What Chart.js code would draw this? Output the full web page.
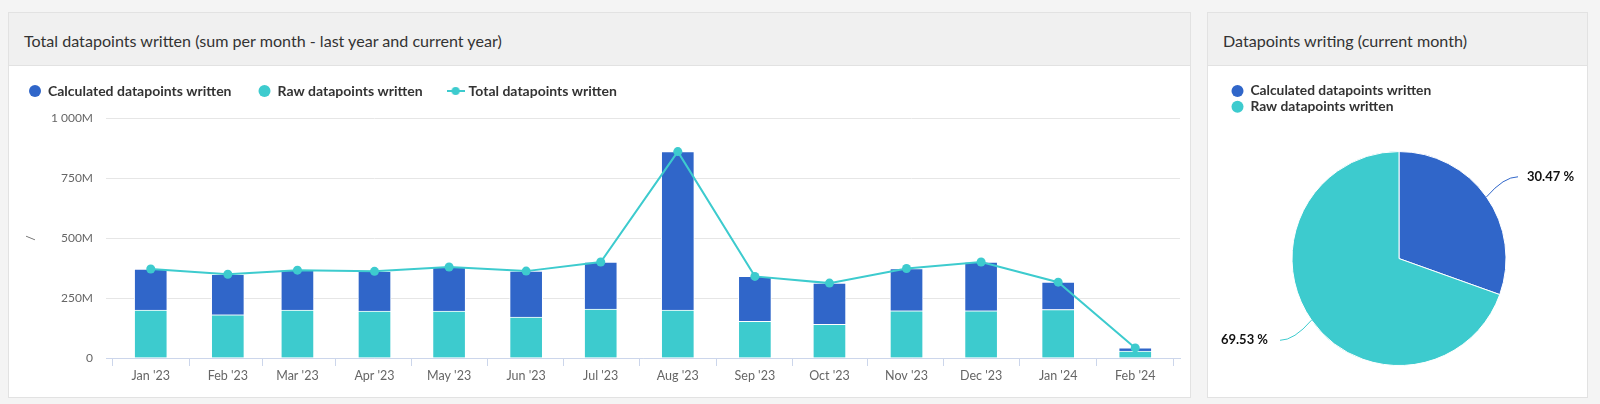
<!DOCTYPE html>
<html>
<head>
<meta charset="utf-8">
<script src="https://cdn.jsdelivr.net/npm/chart.js@4"></script>
<style>
  body { margin: 0; width: 1600px; height: 404px; background: #f4f4f4; font-family: Lato, sans-serif; overflow: hidden; position: relative; }
  .panel { position: absolute; top: 12px; height: 386px; background: #fff; border: 1px solid #e2e2e2; box-sizing: border-box; }
  .panel .head { height: 53px; background: #f0f0f0; border-bottom: 1px solid #e2e2e2; box-sizing: border-box; padding: 2px 0 0 15px; display: flex; align-items: center; font-size: 16.1px; color: #333; }
  canvas { position: absolute; }
</style>
</head>
<body>
<div class="panel" style="left:8px; width:1183px;"><div class="head">Total datapoints written (sum per month - last year and current year)</div></div>
<div class="panel" style="left:1207px; width:381px;"><div class="head">Datapoints writing (current month)</div></div>
<canvas id="bar-chart" style="left:9px; top:66px;" width="1181" height="331"></canvas>
<canvas id="pie-chart" style="left:1208px; top:66px;" width="379" height="331"></canvas>
<script>
// data (millions of datapoints per month)
const monthStarts = ["2023-01-01", "2023-02-01", "2023-03-01", "2023-04-01", "2023-05-01", "2023-06-01", "2023-07-01",
  "2023-08-01", "2023-09-01", "2023-10-01", "2023-11-01", "2023-12-01", "2024-01-01", "2024-02-01"];
const monthLabels = ["Jan '23", "Feb '23", "Mar '23", "Apr '23", "May '23", "Jun '23", "Jul '23",
  "Aug '23", "Sep '23", "Oct '23", "Nov '23", "Dec '23", "Jan '24", "Feb '24"];
const rawWritten = [200, 180, 200, 196, 196, 170, 204, 200, 153, 140, 197, 197, 202, 29];
const calculatedWritten = [171, 169, 166, 165, 183, 192, 196, 660, 187, 172, 176, 203, 114, 13];
const totalWritten = [371, 349, 366, 361, 379, 362, 400, 860, 340, 312, 373, 400, 316, 42];

const pieLabels = ["Calculated datapoints written", "Raw datapoints written"];
const pieShare = [30.47, 69.53];

const blue = "#3066c9";
const teal = "#3dcbce";

// x positions = days since first month
const dayZero = Date.parse(monthStarts[0]);
const days = monthStarts.map(d => Math.round((Date.parse(d) - dayZero) / 86400000));

function pts(values){
    return values.map((v, i) => ({x: days[i], y: v}));
}

//legend icon for the line series
const lineIcon = document.createElement("canvas");
lineIcon.width = 18;
lineIcon.height = 10;
let ic = lineIcon.getContext("2d");
ic.strokeStyle = teal;
ic.lineWidth = 2;
ic.beginPath(); ic.moveTo(0, 5); ic.lineTo(18, 5); ic.stroke();
ic.fillStyle = teal;
ic.beginPath(); ic.arc(9, 5, 4, 0, Math.PI * 2); ic.fill();

const legendSpace = {
    id: "legendSpace",
    beforeInit(chart){
        const fit = chart.legend.fit;
        chart.legend.fit = function(){
            fit.bind(chart.legend)();
            this.height = 61;
        };
    }
};

const legendOrder = {2: 0, 1: 1, 0: 2};

new Chart(document.getElementById("bar-chart"), {
    type: "bar",
    data: {
        datasets: [{
            type: "line",
            label: "Total datapoints written",
            data: pts(totalWritten),
            borderColor: teal,
            backgroundColor: teal,
            borderWidth: 2,
            pointRadius: 4.5,
            pointBorderWidth: 0,
            pointBackgroundColor: teal,
            tension: 0,
            stack: "line"
        }, {
            label: "Raw datapoints written",
            data: pts(rawWritten),
            backgroundColor: teal,
            borderColor: "#ffffff",
            borderWidth: 1,
            barThickness: 33,
            stack: "bars"
        }, {
            label: "Calculated datapoints written",
            data: pts(calculatedWritten),
            backgroundColor: blue,
            borderColor: "#ffffff",
            borderWidth: 1,
            barThickness: 33,
            stack: "bars"
        }]
    },
    options: {
        responsive: false,
        animation: false,
        events: [],
        layout: {padding: {left: -7, right: 10, top: -9, bottom: 0}},
        plugins: {
            tooltip: {enabled: false},
            legend: {
                align: "start",
                labels: {
                    usePointStyle: true,
                    boxWidth: 12,
                    boxHeight: 8.5,
                    padding: 27,
                    color: "#333",
                    font: {family: "Lato", size: 14, weight: "bold"},
                    sort: (a, b) => legendOrder[a.datasetIndex] - legendOrder[b.datasetIndex],
                    generateLabels(chart){
                        const items = Chart.defaults.plugins.legend.labels.generateLabels(chart);
                        items.forEach(it => {
                            if(it.datasetIndex === 0){
                                it.pointStyle = lineIcon;
                            }else{
                                it.pointStyle = "circle";
                                it.strokeStyle = it.fillStyle;
                                it.lineWidth = 0;
                            }
                        });
                        return items;
                    }
                }
            }
        },
        scales: {
            x: {
                type: "linear",
                min: -18,
                max: 414,
                offset: false,
                afterBuildTicks(scale){
                    scale.ticks = days.map(d => ({value: d}));
                },
                afterFit(scale){
                    scale.height = 39;
                },
                ticks: {
                    autoSkip: false,
                    maxRotation: 0,
                    padding: 2,
                    color: "#666",
                    font: {family: "Lato", size: 12.5},
                    callback: (value) => monthLabels[days.indexOf(value)]
                },
                grid: {drawOnChartArea: false, drawTicks: true, tickLength: 8, color: "#ccd6eb"},
                border: {color: "#ccd6eb"}
            },
            y: {
                stacked: true,
                min: 0,
                max: 1000,
                afterFit(scale){
                    scale.width = 104;
                },
                ticks: {
                    stepSize: 250,
                    padding: 13,
                    color: "#666",
                    font: {family: "Lato", size: 12},
                    callback: (v) => v === 0 ? "0" : String(v).replace(/\B(?=(\d{3})+(?!\d))/g, " ") + "M"
                },
                title: {display: true, text: "/", color: "#666", font: {family: "Lato", size: 12}, padding: {top: 22, bottom: 0}},
                grid: {color: "#e6e6e6", drawTicks: false},
                border: {display: false}
            }
        }
    },
    plugins: [legendSpace]
});

// pie slice labels with connectors
const pieValueLabels = {
    id: "pieValueLabels",
    afterDatasetsDraw(chart){
        const ctx = chart.ctx;
        const meta = chart.getDatasetMeta(0);
        ctx.save();
        meta.data.forEach((arc, i) => {
            const {x, y, startAngle, endAngle, outerRadius} = arc.getProps(["x", "y", "startAngle", "endAngle", "outerRadius"]);
            const mid = (startAngle + endAngle) / 2;
            const cos = Math.cos(mid), sin = Math.sin(mid);
            const sx = x + cos * outerRadius, sy = y + sin * outerRadius;
            const right = cos >= 0;
            const ex = x + (right ? 1 : -1) * (outerRadius + 12);
            const ey = y + sin * (outerRadius + 35);
            ctx.strokeStyle = chart.data.datasets[0].backgroundColor[i];
            ctx.lineWidth = 1;
            ctx.beginPath();
            ctx.moveTo(sx, sy);
            ctx.quadraticCurveTo(sx + (ex - sx) * 0.55, ey, ex, ey);
            ctx.stroke();
            ctx.fillStyle = "#111";
            ctx.font = "bold 13px Lato";
            ctx.textBaseline = "middle";
            ctx.textAlign = right ? "left" : "right";
            ctx.fillText(pieShare[i].toFixed(2) + " %", right ? ex + 9 : ex - 12, ey);
        });
        ctx.restore();
    }
};

new Chart(document.getElementById("pie-chart"), {
    type: "pie",
    data: {
        labels: pieLabels,
        datasets: [{
            data: pieShare,
            backgroundColor: [blue, teal],
            borderColor: "#ffffff",
            borderWidth: 1,
            hoverOffset: 0
        }]
    },
    options: {
        responsive: false,
        animation: false,
        events: [],
        radius: 107,
        layout: {padding: {left: 21.5, right: 18.5, top: 16, bottom: 3.5}},
        plugins: {
            tooltip: {enabled: false},
            legend: {
                align: "start",
                labels: {
                    usePointStyle: true,
                    boxWidth: 12,
                    boxHeight: 8.5,
                    padding: 2,
                    color: "#333",
                    font: {family: "Lato", size: 13.8, weight: "bold"},
                    generateLabels(chart){
                        const items = Chart.overrides.pie.plugins.legend.labels.generateLabels(chart);
                        items.forEach(it => {
                            it.pointStyle = "circle";
                            it.strokeStyle = it.fillStyle;
                            it.lineWidth = 0;
                        });
                        return items;
                    }
                }
            }
        }
    },
    plugins: [pieValueLabels]
});
</script>
</body>
</html>
